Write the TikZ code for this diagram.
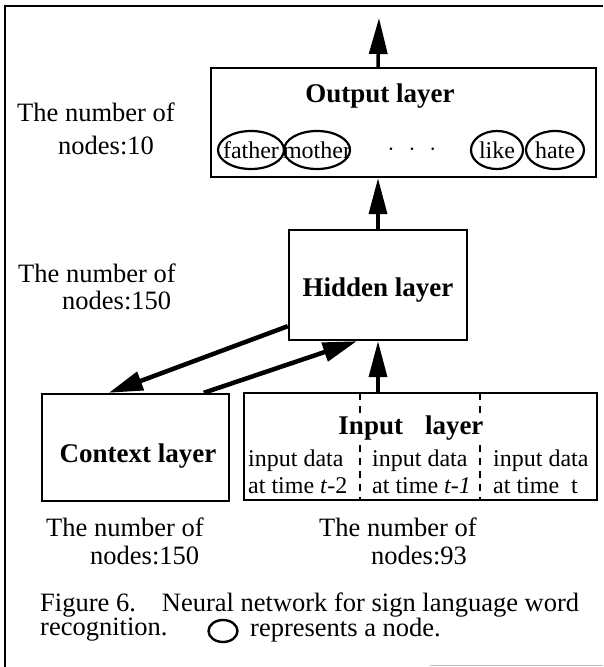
\documentclass[tikz,border=0pt]{standalone}
\usepackage{fontspec}
\setmainfont{Liberation Serif}
\usetikzlibrary{arrows.meta,calc,shapes.geometric}
\begin{document}
\begin{tikzpicture}[x=1pt,y=-1pt,
 box/.style={draw,line width=2.4pt,inner sep=0pt},
 lbl/.style={font=\fontsize{26.5}{28}\selectfont,align=left,inner sep=0pt,anchor=west},
 ttl/.style={font=\fontsize{27}{32}\selectfont\bfseries,inner sep=0pt},
 coltxt/.style={font=\fontsize{24}{25}\selectfont,inner sep=0pt,anchor=west},
 unit/.style={draw,ellipse,line width=2.2pt,minimum height=38pt,inner sep=0pt},
 unitlbl/.style={font=\fontsize{24}{28}\selectfont,inner sep=0pt},
 arr/.style={line width=3.5pt,-{Triangle[length=36pt,width=18pt]}},
 darr/.style={line width=4.5pt,-{Triangle[length=34pt,width=19pt]}},
 divider/.style={line width=2pt,dash pattern=on 7pt off 6pt}]
\useasboundingbox (0,0) rectangle (603,667);
% outer frame
\draw[line width=2pt] (5,667) -- (5,6) -- (603,6);
\draw[line width=1pt,gray!50] (430,665) -- (603,665);

% output layer
\node[box,minimum width=385pt,minimum height=109pt] (out) at (403.5,122.5) {};
\node[ttl] (outt) at (380,96) {Output layer};
\node[unit,minimum width=66pt] (e1) at (251,150) {};
\node[unitlbl] (e1t) at (e1) {father};
\node[unit,minimum width=66pt] (e2) at (317,150) {};
\node[unitlbl] (e2t) at (e2) {mother};
\node[unit,minimum width=52pt] (e3) at (497,150) {};
\node[unitlbl] (e3t) at (e3) {like};
\node[unit,minimum width=58pt] (e4) at (555,150) {};
\node[unitlbl] (e4t) at (e4) {hate};
\node[unitlbl] (dots) at (412,150) {$\cdot$\hspace{14pt}$\cdot$\hspace{14pt}$\cdot$};
\node[lbl] (n10a) at (17,112) {The number of};
\node[lbl] (n10b) at (58,145) {nodes:10};

% hidden layer
\node[box,minimum width=178pt,minimum height=110pt] (hid) at (378,285) {};
\node[ttl] (hidt) at (378,290) {Hidden layer};
\node[lbl] (n150a) at (18,273) {The number of};
\node[lbl] (n150b) at (62,300) {nodes:150};

% context layer
\node[box,minimum width=187pt,minimum height=107pt] (ctx) at (135.5,447.5) {};
\node[ttl] (ctxt) at (138,456) {Context layer};
\node[lbl] (n150c) at (46,527) {The number of};
\node[lbl] (n150d) at (90,555) {nodes:150};

% input layer
\node[box,minimum width=353pt,minimum height=107pt] (inp) at (420.5,446.5) {};
\coordinate (d1t) at (360,393);
\coordinate (d1b) at (360,500);
\coordinate (d2t) at (480,393);
\coordinate (d2b) at (480,500);
\draw[divider] (d1t) -- (d1b);
\draw[divider] (d2t) -- (d2b);
\node[ttl,fill=white,inner xsep=1pt,inner ysep=2pt] (inpt) at (411,428) {Input\hspace{22pt}layer};
\node[coltxt] (c1a) at (248,461) {input data};
\node[coltxt] (c1b) at (248,486) {at time \textit{t}-2};
\node[coltxt] (c2a) at (372,461) {input data};
\node[coltxt] (c2b) at (372,486) {at time \textit{t-1}};
\node[coltxt] (c3a) at (493,461) {input data};
\node[coltxt] (c3b) at (493,486) {at time\ \ t};
\node[lbl] (n93a) at (319,527) {The number of};
\node[lbl] (n93b) at (371,555) {nodes:93};

% arrows
\coordinate (top) at (379,18);
\draw[arr] (hid.north |- out.north) -- (top);
\draw[arr] (hid.north) -- (hid.north |- out.south);
\draw[arr] (hid.south |- inp.north) -- (hid.south);
\draw[darr] ([yshift=15pt]hid.south west) -- ([xshift=68pt]ctx.north west);
\draw[darr] ([xshift=163pt]ctx.north west) -- ([xshift=69pt]hid.south west);

% caption
\node[lbl] (cap1) at (40,605) {Figure 6.\hspace{26pt}Neural network for sign language word};
\node[lbl] (cap2) at (40,630) {recognition.};
\node[draw,ellipse,line width=2.4pt,minimum width=29pt,minimum height=22pt,inner sep=0pt] (sym) at (223,631) {};
\node[lbl] (cap3) at (250,630) {represents a node.};
\end{tikzpicture}
\end{document}
